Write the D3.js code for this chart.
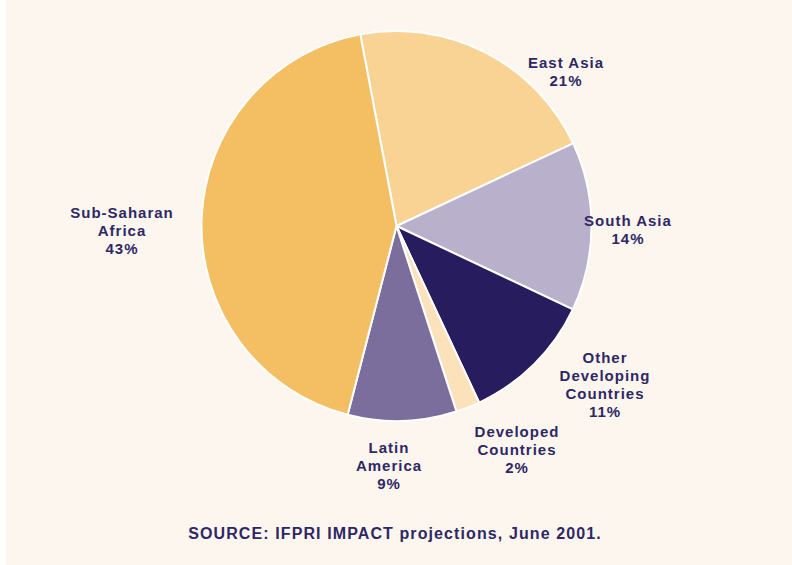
<!DOCTYPE html>
<html>
<head>
<meta charset="utf-8">
<script src="https://d3js.org/d3.v7.min.js"></script>
<style>
    html, body { margin: 0; padding: 0; background: #ffffff; }
    svg { display: block; }
    text {
        font-family: "Liberation Sans", Arial, sans-serif;
        font-weight: bold;
        fill: #2d2864;
    }
</style>
</head>
<body>
<svg id="chart" width="792" height="565"></svg>
<script>
    // slice data, clockwise from the top
    var regions = ["East Asia", "South Asia", "Other Developing Countries", "Developed Countries", "Latin America", "Sub-Saharan Africa"];
    var shares = [21, 14, 11, 2, 9, 43];
    var colors = ["#f9d393", "#b9b0cb", "#271d5e", "#fbe2bb", "#7b6d9c", "#f4bf62"];

    // label lines (text split as in the picture)
    var labelLines = [
        ["East Asia"],
        ["South Asia"],
        ["Other", "Developing", "Countries"],
        ["Developed", "Countries"],
        ["Latin", "America"],
        ["Sub-Saharan", "Africa"]
    ];
    // where each label block sits (x, y of first line)
    var labelPos = [[566, 68], [628, 226], [605, 363], [517, 437], [389, 453], [122, 218]];

    var svg = d3.select("#chart");
    var W = 792, H = 565;

    svg.append("rect").attr("x", 6).attr("y", 0).attr("width", W - 6).attr("height", H)
        .attr("fill", "#fdf6ef");

    var cx = 396.5, cy = 226, r = 195;
    var start = -10.7 * Math.PI / 180;

    var pie = d3.pie().sort(null).value(d => d)
        .startAngle(start).endAngle(start + 2 * Math.PI);
    var arc = d3.arc().innerRadius(0).outerRadius(r);

    var g = svg.append("g").attr("transform", "translate(" + cx + "," + cy + ")");
    g.selectAll("path")
        .data(pie(shares))
        .join("path")
        .attr("d", arc)
        .attr("fill", (d, i) => colors[i])
        .attr("stroke", "#ffffff")
        .attr("stroke-width", 2)
        .attr("stroke-linejoin", "round");

    // labels
    var lh = 18;
    regions.forEach(function (name, i) {
        var lines = labelLines[i].concat([shares[i] + "%"]);
        var t = svg.append("text")
            .attr("text-anchor", "middle")
            .style("font-size", "15px")
            .style("letter-spacing", "1px");
        lines.forEach(function (s, k) {
            t.append("tspan")
                .attr("x", labelPos[i][0])
                .attr("y", labelPos[i][1] + k * lh)
                .text(s);
        });
    });

    svg.append("text")
        .attr("x", 395).attr("y", 539)
        .attr("text-anchor", "middle")
        .style("font-size", "16px")
        .style("letter-spacing", "1.1px")
        .text("SOURCE: IFPRI IMPACT projections, June 2001.");
</script>
</body>
</html>
